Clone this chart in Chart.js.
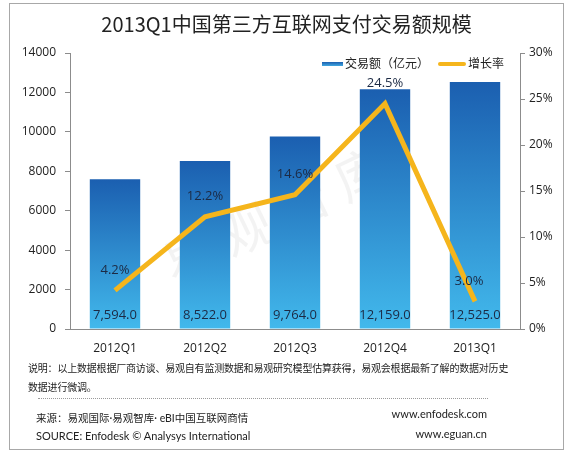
<!DOCTYPE html>
<html>
<head>
<meta charset="utf-8">
<script src="https://cdn.jsdelivr.net/npm/chart.js@4"></script>
<style>
  body { margin: 0; background: #fff; font-family: "Open Sans", "Noto Sans CJK SC", sans-serif; }
  #wrap { position: relative; width: 573px; height: 460px; }
  #frame { position: absolute; left: 9px; top: 3px; width: 553px; height: 445px; border: 1px solid #a8a8a8; }
  #title { position: absolute; left: 0; width: 573px; top: 9px; text-align: center; font-size: 20px; color: #222; font-family: "Noto Sans CJK SC", sans-serif; }
  #chartBox { position: absolute; left: 0; top: 0; width: 573px; height: 362px; }
  .legend { position: absolute; top: 54px; font-size: 12px; color: #222; font-family: "Noto Sans CJK SC", sans-serif; }
  .swatch { position: absolute; height: 4px; top: 62px; }
  .note { position: absolute; font-size: 10px; letter-spacing: -0.2px; color: #222; font-family: "Noto Sans CJK SC", sans-serif; white-space: nowrap; }
  .src { position: absolute; font-size: 11px; color: #222; font-family: Lato, "Noto Sans CJK SC", sans-serif; white-space: nowrap; }
  #dots { position: absolute; left: 38px; top: 398px; width: 450px; border-top: 1px dotted #999; }
</style>
</head>
<body>
<div id="wrap">
  <div id="frame"></div>
  <div id="chartBox"><canvas id="chart" width="573" height="362"></canvas></div>
  <div id="title">2013Q1中国第三方互联网支付交易额规模</div>
  <div class="swatch" style="left:322px;width:21px;background:linear-gradient(#1b5fb0,#41a8e0);"></div>
  <div class="legend" style="left:345px;">交易额（亿元）</div>
  <div class="swatch" style="left:438px;width:28px;background:#f5b51c;border-radius:2px;"></div>
  <div class="legend" style="left:468px;">增长率</div>
  <div class="note" style="left:28px;top:360px;">说明：以上数据根据厂商访谈、易观自有监测数据和易观研究模型估算获得，易观会根据最新了解的数据对历史</div>
  <div class="note" style="left:28px;top:379px;">数据进行微调。</div>
  <div id="dots"></div>
  <div class="src" style="left:36px;top:410px;font-size:10.5px;">来源：易观国际·易观智库· eBI中国互联网商情</div>
  <div class="src" style="left:36px;top:429px;">SOURCE: Enfodesk © Analysys International</div>
  <div class="src" style="left:380px;top:407px;width:107px;text-align:right;">www.enfodesk.com</div>
  <div class="src" style="left:380px;top:427px;width:107px;text-align:right;">www.eguan.cn</div>
</div>
<script>
// données
const quarters = ['2012Q1', '2012Q2', '2012Q3', '2012Q4', '2013Q1'];
const volume = [7594.0, 8522.0, 9764.0, 12159.0, 12525.0];
const growth = [4.2, 12.2, 14.6, 24.5, 3.0];
const leftTicks = [0, 2000, 4000, 6000, 8000, 10000, 12000, 14000];
const rightTicks = [0, 5, 10, 15, 20, 25, 30];

const tickFont = { family: "'Open Sans', 'Noto Sans CJK SC', sans-serif", size: 12 };

// dégradé vertical pour chaque barre
function barGradient(c) {
    const chart = c.chart;
    if (!chart.chartArea || c.raw === undefined) return '#2f8fd6';
    const top = chart.scales.y.getPixelForValue(c.raw);
    const g = chart.ctx.createLinearGradient(0, top, 0, chart.chartArea.bottom);
    g.addColorStop(0, '#1b5fb0');
    g.addColorStop(1, '#42b9ec');
    return g;
}

// étiquettes des valeurs
const valueLabels = {
    id: 'valueLabels',
    afterDatasetsDraw(chart) {
        const ctx = chart.ctx;
        ctx.save();
        ctx.font = "13px 'Open Sans', sans-serif";
        ctx.fillStyle = '#1c2a44';
        ctx.textAlign = 'center';
        ctx.textBaseline = 'middle';
        chart.getDatasetMeta(0).data.forEach((bar, i) => {
            const txt = volume[i].toLocaleString('en-US', { minimumFractionDigits: 1 });
            ctx.fillText(txt, bar.x, chart.chartArea.bottom - 14);
        });
        chart.getDatasetMeta(1).data.forEach((pt, i) => {
            ctx.fillText(growth[i].toFixed(1) + '%', pt.x - (i === 4 ? 6 : 0), pt.y - 20);
        });
        ctx.restore();
    }
};

// filigrane discret
const watermark = {
    id: 'watermark',
    beforeDatasetsDraw(chart) {
        const ctx = chart.ctx;
        ctx.save();
        ctx.translate(275, 215);
        ctx.rotate(-0.45);
        ctx.font = "52px 'Noto Sans CJK SC', sans-serif";
        ctx.fillStyle = 'rgba(190,190,190,0.18)';
        ctx.textAlign = 'center';
        ctx.textBaseline = 'middle';
        ctx.fillText('易 观 智 库', 0, 0);
        ctx.restore();
    }
};

function drawChart() {
    new Chart(document.getElementById('chart'), {
        data: {
            labels: quarters,
            datasets: [
                {
                    type: 'bar',
                    label: '交易额（亿元）',
                    data: volume,
                    backgroundColor: barGradient,
                    categoryPercentage: 1,
                    barPercentage: 0.56,
                    yAxisID: 'y',
                    order: 2
                },
                {
                    type: 'line',
                    label: '增长率',
                    data: growth,
                    borderColor: '#f5b51c',
                    borderWidth: 5,
                    pointRadius: 0,
                    tension: 0,
                    yAxisID: 'y1',
                    order: 1
                }
            ]
        },
        options: {
            responsive: false,
            animation: false,
            layout: { padding: { top: 53, left: 0, right: 0, bottom: 0 } },
            plugins: { legend: { display: false }, tooltip: { enabled: false } },
            scales: {
                x: {
                    grid: { display: false, drawTicks: false },
                    border: { color: '#8c8c8c' },
                    ticks: { font: tickFont, color: '#222', padding: 12, maxRotation: 0 },
                    afterFit: s => { s.height = 33; }
                },
                y: {
                    position: 'left',
                    min: 0, max: 14000,
                    afterBuildTicks: s => { s.ticks = leftTicks.map(v => ({ value: v })); },
                    grid: { drawOnChartArea: false, tickLength: 5, color: '#8c8c8c' },
                    border: { color: '#8c8c8c' },
                    ticks: { font: tickFont, color: '#222', padding: 9, callback: v => String(v) },
                    afterFit: s => { s.width = 70; }
                },
                y1: {
                    position: 'right',
                    min: 0, max: 30,
                    afterBuildTicks: s => { s.ticks = rightTicks.map(v => ({ value: v })); },
                    grid: { drawOnChartArea: false, tickLength: 5, color: '#8c8c8c' },
                    border: { color: '#8c8c8c' },
                    ticks: { font: tickFont, color: '#222', padding: 4, callback: v => v + '%' },
                    afterFit: s => { s.width = 53; }
                }
            }
        },
        plugins: [valueLabels, watermark]
    });
}

// attendre les polices avant de dessiner le canvas
Promise.all([
    document.fonts.load("52px 'Noto Sans CJK SC'", '易观智库'),
    document.fonts.load("13px 'Open Sans'", '0123456789,.%Q')
]).then(drawChart, drawChart);
</script>
</body>
</html>
